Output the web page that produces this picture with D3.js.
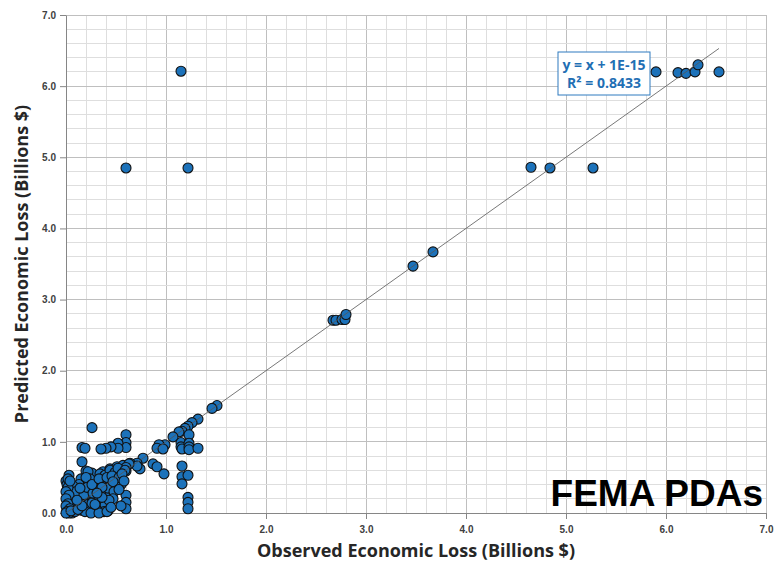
<!DOCTYPE html>
<html>
<head>
<meta charset="utf-8">
<script src="https://cdn.jsdelivr.net/npm/d3@7"></script>
<style>
  body { margin: 0; background: #fff; }
  svg { display: block; font-family: "Open Sans", "Noto Sans", sans-serif; }
</style>
</head>
<body>
<div id="chart"></div>
<script>
// observed (x) and predicted (y) losses, billions $
var observed = [
  1.15, 0.60, 1.22, 4.65, 4.84, 5.27, 3.67, 3.47, 2.67, 2.70, 2.76, 2.79, 2.80,
  5.90, 6.12, 6.20, 6.29, 6.32, 6.53,
  1.51, 1.46, 1.32, 1.26, 1.22, 1.19, 1.16, 1.13, 1.07, 1.23, 1.15, 1.15, 1.16,
  1.23, 1.23, 1.23, 1.32, 0.99, 0.93, 0.91, 0.97, 0.77, 0.87, 0.91, 0.98, 0.71,
  0.64, 0.74, 0.71, 1.16, 1.16, 1.16, 1.22, 1.22, 1.22, 1.22,
  0.60, 0.60, 0.60, 0.52, 0.52, 0.45, 0.40, 0.35, 0.26, 0.16, 0.19, 0.16, 0.20,
  0.26, 0.37, 0.44, 0.51, 0.57, 0.63, 0.60, 0.60, 0.60, 0.60, 0.60, 0.50, 0.45,
  0.50, 0.55, 0.37, 0.44, 0.32, 0.39, 0.42, 0.38, 0.27, 0.34, 0.39, 0.44, 0.49,
  0.52, 0.59, 0.40, 0.42, 0.48, 0.35, 0.30, 0.28,
  0.15, 0.22, 0.17, 0.25, 0.25, 0.17, 0.20, 0.15, 0.12, 0.14, 0.22, 0.28, 0.30,
  0.10, 0.13, 0.23, 0.19, 0.25, 0.33,
  0.03, 0.03, 0.04, 0.02, 0.04, 0.02, 0.05, 0.03, 0.04, 0.02, 0.06, 0.01, 0.05,
  0.01, 0.06, 0.07, 0.08, 0.09, 0.03, 0.07, 0.10, 0.41, 0.26, 0.55, 0.33, 0.47,
  0.00, 0.01, 0.02, 0.00, 0.03, 0.00, 0.02, 0.00, 0.04, 0.01, 0.00, 0.05, 0.02, 0.04,
  0.12, 0.16, 0.18, 0.21, 0.24, 0.27, 0.29, 0.11, 0.14, 0.20, 0.26,
  0.33, 0.36, 0.41, 0.46, 0.53, 0.56, 0.58, 0.47, 0.53, 0.43, 0.36, 0.31, 0.45
];
var predicted = [
  6.21, 4.85, 4.85, 4.86, 4.85, 4.85, 3.67, 3.47, 2.71, 2.71, 2.72, 2.72, 2.79,
  6.20, 6.19, 6.18, 6.20, 6.30, 6.20,
  1.51, 1.47, 1.32, 1.27, 1.22, 1.19, 1.15, 1.14, 1.07, 1.10, 0.99, 0.93, 0.90,
  0.98, 0.93, 0.89, 0.91, 0.96, 0.96, 0.91, 0.90, 0.77, 0.69, 0.65, 0.55, 0.70,
  0.70, 0.62, 0.66, 0.66, 0.51, 0.41, 0.53, 0.22, 0.15, 0.06,
  1.10, 0.99, 0.92, 0.98, 0.91, 0.93, 0.91, 0.90, 1.20, 0.92, 0.91, 0.72, 0.59,
  0.56, 0.58, 0.62, 0.65, 0.67, 0.69, 0.64, 0.59, 0.25, 0.15, 0.06, 0.48, 0.42,
  0.38, 0.40, 0.30, 0.25, 0.15, 0.11, 0.03, 0.02, 0.02, 0.55, 0.53, 0.60, 0.57,
  0.63, 0.60, 0.45, 0.35, 0.30, 0.40, 0.45, 0.35,
  0.48, 0.58, 0.32, 0.32, 0.22, 0.20, 0.08, 0.04, 0.25, 0.14, 0.12, 0.20, 0.06,
  0.10, 0.40, 0.42, 0.02, 0.00, 0.00,
  0.53, 0.43, 0.35, 0.28, 0.22, 0.16, 0.12, 0.08, 0.04, 0.01, 0.00, 0.05, 0.18,
  0.32, 0.27, 0.06, 0.15, 0.02, 0.00, 0.38, 0.30, 0.02, 0.14, 0.10, 0.47, 0.20,
  0.45, 0.40, 0.36, 0.30, 0.25, 0.20, 0.13, 0.10, 0.06, 0.02, 0.00, 0.03, 0.48, 0.45,
  0.05, 0.10, 0.26, 0.36, 0.48, 0.28, 0.12, 0.18, 0.35, 0.50, 0.40,
  0.48, 0.36, 0.50, 0.52, 0.50, 0.55, 0.45, 0.44, 0.33, 0.18, 0.22, 0.28, 0.08
];
var tickValues = [0, 1, 2, 3, 4, 5, 6, 7];
var trendRange = [0, 6.53];
var equationLines = ["y = x + 1E-15", "R\u00b2 = 0.8433"];
var xTitle = "Observed Economic Loss (Billions $)";
var yTitle = "Predicted Economic Loss (Billions $)";
var stamp = "FEMA PDAs";

var W = 774, H = 563;
var m = {left: 66, right: 8, top: 15, bottom: 50};

var svg = d3.select('#chart').append('svg')
  .attr('width', W).attr('height', H);

var x = d3.scaleLinear().domain([0, 7]).range([m.left, W - m.right]);
var y = d3.scaleLinear().domain([0, 7]).range([H - m.bottom, m.top]);

// gridlines: minor every 0.2, major every 1
var minor = d3.range(0, 7.01, 0.2).map(function(v) { return Math.round(v * 10) / 10; });
var g = svg.append('g');
g.selectAll('.vmin').data(minor).enter().append('line')
  .attr('x1', function(d) { return x(d); }).attr('x2', function(d) { return x(d); })
  .attr('y1', y(0)).attr('y2', y(7))
  .attr('stroke', function(d) { return d % 1 === 0 ? '#bfbfbf' : '#dedede'; })
  .attr('stroke-width', 1).attr('shape-rendering', 'crispEdges');
g.selectAll('.hmin').data(minor).enter().append('line')
  .attr('y1', function(d) { return y(d); }).attr('y2', function(d) { return y(d); })
  .attr('x1', x(0)).attr('x2', x(7))
  .attr('stroke', function(d) { return d % 1 === 0 ? '#bfbfbf' : '#dedede'; })
  .attr('stroke-width', 1).attr('shape-rendering', 'crispEdges');

// axes
var xAxis = d3.axisBottom(x).tickValues(tickValues).tickFormat(d3.format('.1f')).tickSize(6).tickSizeOuter(0);
var yAxis = d3.axisLeft(y).tickValues(tickValues).tickFormat(d3.format('.1f')).tickSize(6).tickSizeOuter(0);

var gx = svg.append('g').attr('transform', 'translate(0,' + y(0) + ')').call(xAxis);
var gy = svg.append('g').attr('transform', 'translate(' + x(0) + ',0)').call(yAxis);
[gx, gy].forEach(function(a) {
  a.select('.domain').attr('stroke', '#868686');
  a.selectAll('.tick line').attr('stroke', '#868686');
  a.selectAll('.tick text').attr('fill', '#404040')
    .style('font-size', '10px').style('font-weight', 'bold');
});
gx.selectAll('.tick text').attr('dy', '1.1em');
gy.selectAll('.tick text').attr('x', -10);

// points
var pts = observed.map(function(d, i) { return [d, predicted[i]]; });
svg.append('g').selectAll('circle').data(pts).enter().append('circle')
  .attr('cx', function(d) { return x(d[0]); })
  .attr('cy', function(d) { return y(d[1]); })
  .attr('r', 5)
  .attr('fill', '#1c72ba')
  .attr('stroke', '#111')
  .attr('stroke-width', 1.1);

// trendline y = x
svg.append('line')
  .attr('x1', x(trendRange[0])).attr('y1', y(trendRange[0]))
  .attr('x2', x(trendRange[1])).attr('y2', y(trendRange[1]))
  .attr('stroke', '#555').attr('stroke-width', 0.8);

// equation box
var eq = svg.append('g');
eq.append('rect').attr('x', 558).attr('y', 52).attr('width', 92).attr('height', 43)
  .attr('fill', '#fff').attr('stroke', '#2e7bbf').attr('stroke-width', 1);
eq.selectAll('text').data(equationLines).enter().append('text')
  .attr('x', 604).attr('y', function(d, i) { return 70 + i * 18; })
  .attr('text-anchor', 'middle')
  .attr('fill', '#1f6fb4')
  .style('font-size', '14px').style('font-weight', 'bold')
  .text(function(d) { return d; });

// titles
svg.append('text').attr('x', 416).attr('y', 557).attr('text-anchor', 'middle')
  .attr('fill', '#262626').style('font-size', '18px').style('font-weight', 'bold')
  .text(xTitle);
svg.append('text').attr('transform', 'translate(28,264) rotate(-90)').attr('text-anchor', 'middle')
  .attr('fill', '#262626').style('font-size', '18px').style('font-weight', 'bold')
  .text(yTitle);

svg.append('text').attr('x', 763).attr('y', 506).attr('text-anchor', 'end')
  .attr('fill', '#000').style('font-family', '"Liberation Sans", Arial, sans-serif')
  .style('font-size', '37px').style('font-weight', 'bold')
  .text(stamp);
</script>
</body>
</html>
